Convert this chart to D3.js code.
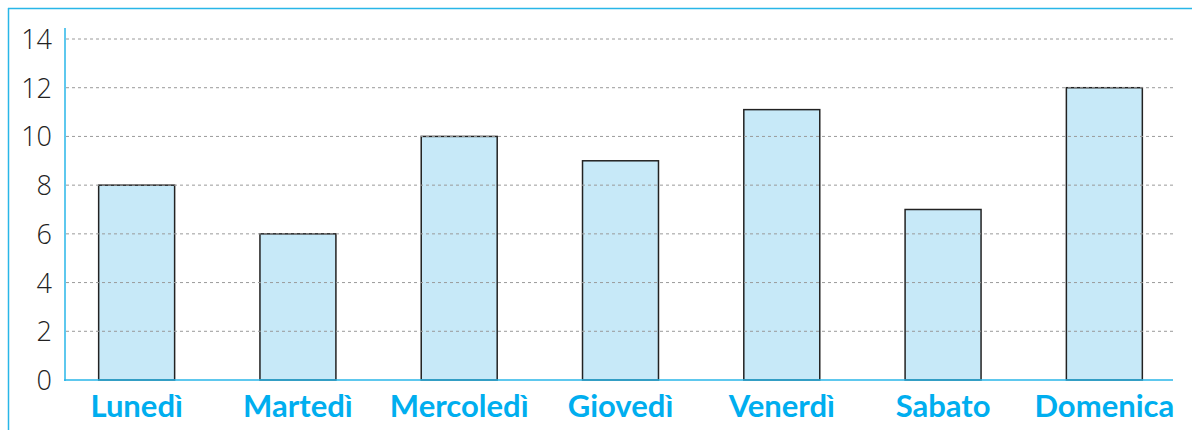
<!DOCTYPE html>
<html><head><meta charset="utf-8">
<script src="https://cdn.jsdelivr.net/npm/d3@7"></script>
<style>body{margin:0;background:#fff}svg{display:block}</style>
</head><body>
<svg id="c" width="1192" height="430"></svg>
<script>
const days = ["Lunedì","Martedì","Mercoledì","Giovedì","Venerdì","Sabato","Domenica"];
const values = [8, 6, 10, 9, 11.1, 7, 12];
const yTicks = [0, 2, 4, 6, 8, 10, 12, 14];

const svg = d3.select("#c");
const blue = "#29b6e8";
const x = d3.scaleBand().domain(days).range([56, 1185]).paddingInner(0.529).paddingOuter(0.2645);
const y = d3.scaleLinear().domain([0, 14]).range([380, 39]);

// frame
svg.append("line").attr("x1", 8).attr("x2", 1192).attr("y1", 8.5).attr("y2", 8.5).attr("stroke", blue).attr("stroke-width", 1.5);
svg.append("line").attr("x1", 8.5).attr("x2", 8.5).attr("y1", 8).attr("y2", 430).attr("stroke", blue).attr("stroke-width", 1.5);

// bars
svg.selectAll("rect.bar").data(values).join("rect").attr("class", "bar")
  .attr("x", (d, i) => x(days[i])).attr("width", x.bandwidth())
  .attr("y", d => y(d)).attr("height", d => y(0) - y(d))
  .attr("fill", "#c7e9f8").attr("stroke", "#222").attr("stroke-width", 1.5);

// grid
svg.selectAll("line.grid").data(yTicks.filter(t => t > 0)).join("line").attr("class", "grid")
  .attr("x1", 66).attr("x2", 1173).attr("y1", d => y(d)).attr("y2", d => y(d))
  .attr("stroke", "#9a9a9a").attr("stroke-width", 1).attr("stroke-dasharray", "3,3");

// y axis
const yAxis = d3.axisLeft(y).tickValues(yTicks).tickSize(0).tickPadding(13);
const gy = svg.append("g").attr("transform", "translate(65,0)").call(yAxis);
gy.select(".domain").remove();
gy.selectAll("text").attr("font-family", "'Open Sans', sans-serif").attr("font-weight", 300)
  .attr("font-size", 27).attr("fill", "#222").attr("dy", "0.35em");
svg.append("line").attr("x1", 65).attr("x2", 65).attr("y1", 28).attr("y2", 381).attr("stroke", blue).attr("stroke-width", 1.5);

// x axis
const xAxis = d3.axisBottom(x).tickSize(0).tickPadding(0);
const gx = svg.append("g").attr("transform", "translate(0,380)").call(xAxis);
gx.select(".domain").remove();
gx.selectAll("text").attr("font-family", "Lato, sans-serif").attr("font-weight", 700)
  .attr("font-size", 31).attr("fill", "#00aeef").attr("dy", null).attr("y", 37);
svg.append("line").attr("x1", 64).attr("x2", 1173).attr("y1", 380).attr("y2", 380).attr("stroke", blue).attr("stroke-width", 1.5);
</script>
</body></html>
